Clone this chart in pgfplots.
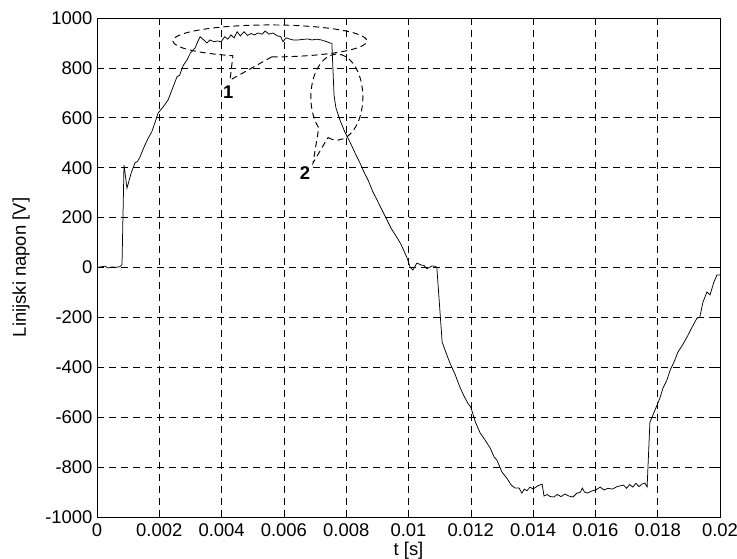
\documentclass[border=0pt]{standalone}
\usepackage{pgfplots}
\pgfplotsset{compat=1.18}
\usepackage{fontspec}
\setmainfont{Liberation Sans}
\usetikzlibrary{calc}
\begin{document}
\begin{tikzpicture}
\path[use as bounding box] (0,0) rectangle (737bp,559bp);
\begin{axis}[
  at={(97bp,42bp)}, anchor=south west,
  width=623bp, height=499bp, scale only axis,
  xmin=0, xmax=0.02, ymin=-1000, ymax=1000,
  xtick={0,0.002,...,0.0201}, ytick={-1000,-800,...,1000},
  xticklabels={0,0.002,0.004,0.006,0.008,0.01,0.012,0.014,0.016,0.018,0.02},
  scaled x ticks=false,
  /pgf/number format/assume math mode=true,
  /pgf/number format/1000 sep={},
  tick pos=both, tick align=inside, major tick length=5bp,
  tick style={black, line width=0.6bp},
  grid=major,
  major grid style={black, dash pattern=on 7bp off 5bp, line width=0.6bp},
  axis line style={line width=0.7bp},
  ticklabel style={font=\fontsize{18.5}{21}\selectfont},
  xticklabel style={yshift=-3bp},
  yticklabel style={xshift=-1bp},
  xlabel={t [s]}, ylabel={Linijski napon [V]},
  label style={font=\fontsize{18.5}{21}\selectfont},
  xlabel style={at={(axis description cs:0.5,-0.068)}, anchor=center},
  ylabel style={at={(axis description cs:-0.122,0.5)}, anchor=center},
]
\addplot[black, line width=0.75bp] coordinates {
(0,0) (0.00013,3) (0.000257,5) (0.00035,-2) (0.000482,2) (0.0006,1) (0.000738,3) (0.000803,12)
(0.000867,411) (0.000963,318) (0.00110,380) (0.00122,419) (0.00130,425) (0.00138,443)
(0.00150,480) (0.00165,520) (0.00176,544) (0.00186,580) (0.00196,619) (0.00210,640)
(0.00228,671) (0.00240,710) (0.00257,765) (0.00265,770) (0.00277,810) (0.00289,832)
(0.00300,860) (0.00315,880) (0.00325,910) (0.00331,925) (0.00340,915) (0.00353,900)
(0.00363,912) (0.00375,905) (0.00388,908) (0.00398,904) (0.00410,925) (0.00420,915)
(0.00430,932) (0.00440,920) (0.00450,945) (0.00460,928) (0.00472,945) (0.00483,930)
(0.00495,938) (0.00505,932) (0.00517,940) (0.00530,935) (0.00540,948) (0.00552,935)
(0.00565,940) (0.00578,929) (0.00590,925) (0.00597,905) (0.00607,921) (0.00620,915)
(0.00630,912) (0.00645,912) (0.00660,914) (0.00676,916) (0.00690,912) (0.00705,915)
(0.00720,912) (0.00735,906) (0.00748,900) (0.00754,898)
(0.00761,690) (0.00767,640) (0.00780,591) (0.00795,545) (0.00812,503) (0.00828,460)
(0.00844,419) (0.00858,380) (0.00870,351) (0.00885,305) (0.00899,271) (0.00915,230)
(0.00931,190) (0.00945,155) (0.00963,120) (0.00975,95) (0.00995,40) (0.01005,2)
(0.01014,-10) (0.01027,18) (0.01040,10) (0.01050,8) (0.01059,-5) (0.01075,6)
(0.01085,5) (0.01091,0) (0.01108,-299) (0.01120,-340) (0.01133,-383) (0.01150,-430)
(0.01165,-479) (0.01178,-515) (0.01191,-545) (0.01200,-560) (0.01215,-620) (0.01230,-663)
(0.01245,-690) (0.01262,-723) (0.01275,-760) (0.01284,-772) (0.01300,-820) (0.01316,-845)
(0.01330,-872) (0.01342,-884) (0.01355,-884) (0.01364,-904) (0.01372,-888) (0.01380,-895)
(0.01390,-880) (0.01400,-888) (0.01415,-875) (0.01429,-868) (0.01435,-916) (0.01445,-910)
(0.01455,-918) (0.01467,-920) (0.01477,-910) (0.01490,-918) (0.01502,-908) (0.01515,-916)
(0.01528,-920) (0.01540,-905) (0.01552,-900) (0.01558,-884) (0.01565,-900) (0.01575,-904)
(0.01590,-895) (0.01601,-892) (0.01615,-880) (0.01628,-892) (0.01640,-885) (0.01655,-888)
(0.01670,-878) (0.01690,-872) (0.01700,-885) (0.01710,-870) (0.01720,-880) (0.01730,-865)
(0.01740,-878) (0.01750,-868) (0.01759,-864) (0.01766,-880) (0.01775,-620) (0.01785,-590) (0.01798,-551)
(0.01808,-520) (0.01817,-483) (0.01830,-450) (0.01840,-411) (0.01852,-380) (0.01865,-339)
(0.01880,-310) (0.01894,-279) (0.01910,-240) (0.01926,-203) (0.01935,-200) (0.01945,-140)
(0.01958,-98) (0.01968,-110) (0.01980,-60) (0.0199,-30) (0.02,-30)
};
\coordinate (c1) at (axis cs:0.00555,908);
\coordinate (t1) at (axis cs:0.00427,751);
\coordinate (c2) at (axis cs:0.0077,683);
\coordinate (t2) at (axis cs:0.006934,419);
\draw[black, dash pattern=on 6bp off 4bp, line width=0.95bp]
  ($(c1)+(271:97bp and 16bp)$) arc[start angle=271, end angle=607.6, x radius=97bp, y radius=16bp] -- (t1) -- cycle;
\draw[black, dash pattern=on 6bp off 4bp, line width=0.95bp]
  ($(c2)+(250:26bp and 43bp)$) arc[start angle=250, end angle=586, x radius=26bp, y radius=43bp] -- (t2) -- cycle;
\node[font=\bfseries\fontsize{18.5}{21}\selectfont] at (axis cs:0.00421,703) {1};
\node[font=\bfseries\fontsize{18.5}{21}\selectfont] at (axis cs:0.00668,379) {2};
\end{axis}
\end{tikzpicture}
\end{document}
